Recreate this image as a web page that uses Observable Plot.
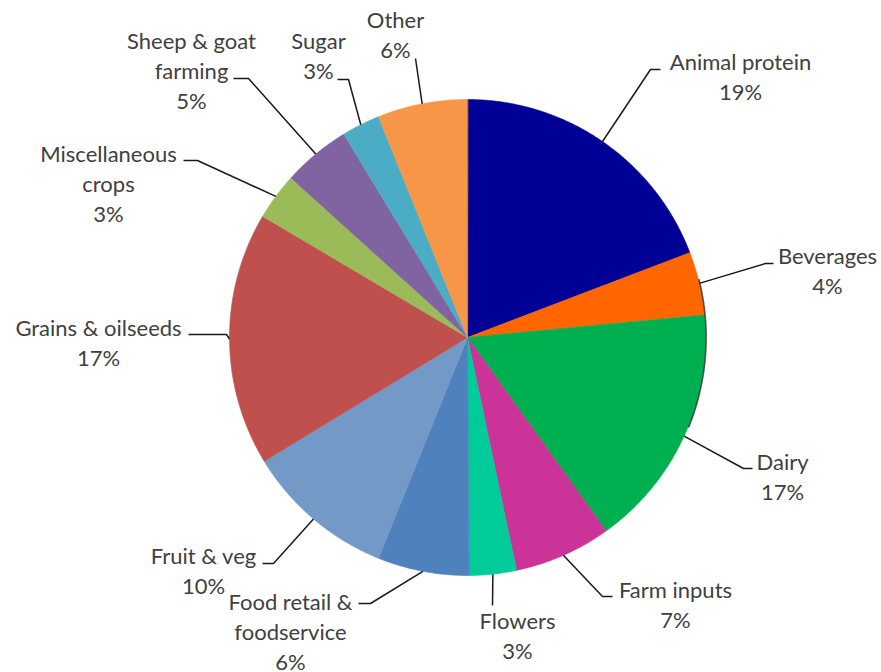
<!DOCTYPE html>
<html>
<head>
<meta charset="utf-8">
<script src="https://cdn.jsdelivr.net/npm/d3@7"></script>
<script src="https://cdn.jsdelivr.net/npm/@observablehq/plot@0.6"></script>
<style>
  html, body { margin: 0; padding: 0; background: #ffffff; }
  #chart svg { display: block; }
</style>
</head>
<body>
<div id="chart"></div>
<script>
// ---- data ----
const categories = ["Animal protein", "Beverages", "Dairy", "Farm inputs", "Flowers",
  "Food retail & foodservice", "Fruit & veg", "Grains & oilseeds", "Miscellaneous crops",
  "Sheep & goat farming", "Sugar", "Other"];
const shares = [19.2, 4.3, 16.6, 6.6, 3.2, 6.2, 10.2, 17.2, 3.2, 4.6, 2.6, 6.1];
const labelLines = [["Animal protein"], ["Beverages"], ["Dairy"], ["Farm inputs"], ["Flowers"],
  ["Food retail &", "foodservice"], ["Fruit & veg"], ["Grains & oilseeds"], ["Miscellaneous", "crops"],
  ["Sheep & goat", "farming"], ["Sugar"], ["Other"]];
const colors = ["#000096", "#FF6600", "#00B050", "#CC3399", "#00CC99", "#4F81BD",
  "#7399C6", "#C0504D", "#9BBB59", "#8064A2", "#4BACC6", "#F79646"];

// ---- label layout (pixel positions in the 881x672 frame) ----
const labelPos = [[740, 63], [827, 257], [782, 463], [675, 591], [517, 622], [290, 603],
  [203, 557], [98, 329], [108, 155], [191, 42], [318, 42], [395, 21]];
const leaderElbow = [[650, 69], [765, 263], [743, 468], [602, 596], [492, 605], [370, 603],
  [273, 563], [226, 334], [197, 160], [248, 78], [348, 79], [415, 58]];
const leaderEnd = [[660, 69], [773, 263], [752, 468], [612, 596], [492, 605], [358, 603],
  [262, 563], [188, 334], [183, 160], [233, 78], [337, 79], [415, 58]];

// ---- geometry ----
const W = 881, H = 672, CX = 467, CY = 337, R = 238;
const toU = ([px, py]) => ({x: px - CX, y: CY - py});
const total = d3.sum(shares);
const slicePts = [];
const leaderPts = [];
const labels = [];
let acc = 0;
shares.forEach((v, i) => {
  const a0 = acc / total * 2 * Math.PI;
  acc += v;
  const a1 = acc / total * 2 * Math.PI;
  const n = Math.max(2, Math.ceil((a1 - a0) / (Math.PI / 360)));
  slicePts.push({name: categories[i], color: colors[i], x: 0, y: 0});
  for (let k = 0; k <= n; k++) {
    const a = a0 + (a1 - a0) * k / n;
    slicePts.push({name: categories[i], color: colors[i], x: R * Math.sin(a), y: R * Math.cos(a)});
  }
  const am = (a0 + a1) / 2;
  leaderPts.push({name: categories[i], x: R * Math.sin(am), y: R * Math.cos(am)});
  leaderPts.push({name: categories[i], ...toU(leaderElbow[i])});
  leaderPts.push({name: categories[i], ...toU(leaderEnd[i])});
  labels.push({...toU(labelPos[i]), text: [...labelLines[i], Math.round(v / total * 100) + "%"].join("\n")});
});

// subtle dark rim on right side of pie
const rimPts = [];
for (let deg = 76; deg <= 112; deg += 0.5) {
  const a = deg * Math.PI / 180;
  rimPts.push({x: (R + 0.6) * Math.sin(a), y: (R + 0.6) * Math.cos(a)});
}

const FS = 22;
const chart = Plot.plot({
  width: W,
  height: H,
  margin: 0,
  style: {background: "#ffffff", overflow: "visible"},
  x: {domain: [-CX, W - CX], axis: null},
  y: {domain: [CY - H, CY], axis: null},
  color: {type: "identity"},
  marks: [
    Plot.line(slicePts, {x: "x", y: "y", z: "name", fill: "color", stroke: "color",
      strokeWidth: 0.6, curve: "linear-closed"}),
    Plot.line(rimPts, {x: "x", y: "y", stroke: "#111111", strokeWidth: 1.6, strokeOpacity: 0.7}),
    Plot.line(leaderPts, {x: "x", y: "y", z: "name", stroke: "#1a1a1a", strokeWidth: 1.5,
      strokeLinejoin: "miter", strokeLinecap: "butt"}),
    Plot.text(labels, {x: "x", y: "y", text: "text", textAnchor: "middle", lineAnchor: "top",
      lineHeight: 1.36, fontSize: FS, fontFamily: "Lato", fill: "#404040", dy: -0.39 * FS - 6})
  ]
});
document.getElementById("chart").appendChild(chart);
</script>
</body>
</html>
